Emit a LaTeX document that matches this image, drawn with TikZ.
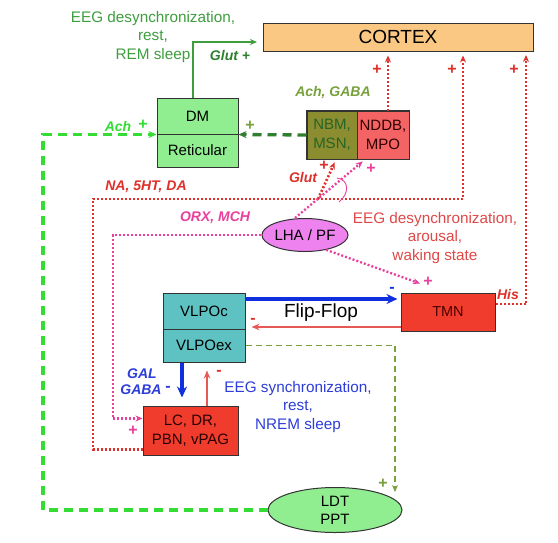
\documentclass[tikz,border=0pt]{standalone}
\usepackage{fontspec}
\setmainfont{Liberation Sans}
\usetikzlibrary{arrows.meta,shapes.geometric,calc}
\definecolor{cortexfill}{HTML}{FAC882}
\definecolor{lgreen}{HTML}{90EE90}
\definecolor{olivefill}{HTML}{8C8C30}
\definecolor{salmon}{HTML}{F46464}
\definecolor{tealfill}{HTML}{5FC2C2}
\definecolor{redbox}{HTML}{F03C2C}
\definecolor{violetfill}{HTML}{EE82EE}
\definecolor{eeggreen}{HTML}{3E9E3E}
\definecolor{darkgreen}{HTML}{2F7F2F}
\definecolor{olivetext}{HTML}{78A03C}
\definecolor{brightgreen}{HTML}{33DD33}
\definecolor{redtext}{HTML}{E0302A}
\definecolor{eegred}{HTML}{E04848}
\definecolor{bluetext}{HTML}{2D3DD8}
\definecolor{bluearrow}{HTML}{1030E0}
\definecolor{pink}{HTML}{E8409C}
\definecolor{edge}{HTML}{333333}
\begin{document}
\begin{tikzpicture}[x=1pt,y=-1pt,
  box/.style={draw=edge,line width=1pt,inner sep=0pt,font=\fontsize{15}{17}\selectfont},
  lbl/.style={inner sep=0pt,font=\fontsize{14}{16}\selectfont\bfseries\itshape},
  txt/.style={inner sep=0pt,align=center,font=\fontsize{15.3}{18.5}\selectfont},
  sgn/.style={inner sep=0pt,font=\fontsize{16}{17}\selectfont\bfseries},
  tip/.style={-{Stealth[length=7pt,width=6pt]}},
  reddot/.style={tip,draw=redtext,line width=2.6pt,dash pattern=on 2pt off 2pt},
  pinkdot/.style={tip,draw=pink,line width=2.3pt,dash pattern=on 2pt off 2pt},
  gdash/.style={-{Stealth[length=8pt,width=7pt]},draw=brightgreen,line width=3.3pt,dash pattern=on 9pt off 6pt},
  dgdash/.style={-{Stealth[length=8pt,width=7pt]},draw=darkgreen,line width=3.3pt,dash pattern=on 9pt off 6pt},
  odash/.style={tip,draw=olivetext,line width=1.8pt,dash pattern=on 6pt off 4pt},
  bluethick/.style={-{Stealth[length=11pt,width=10pt]},draw=bluearrow,line width=3.2pt},
  redthin/.style={-{Stealth[length=8pt,width=6.5pt]},draw=redtext!80,line width=1.3pt}]
\useasboundingbox (0,0) rectangle (558,542);
\fill[white] (0,0) rectangle (558,542);

% nodes
\node[box,fill=cortexfill,minimum width=270pt,minimum height=28pt,font=\fontsize{19}{21}\selectfont] (cortex) at (398,37) {CORTEX};
\node[box,fill=lgreen,minimum width=81pt,minimum height=36pt] (dm) at (197.5,116) {DM};
\node[box,fill=lgreen,minimum width=81pt,minimum height=33pt] (ret) at (197.5,150.5) {Reticular};
\node[box,fill=olivefill,minimum width=50pt,minimum height=48pt,align=center,text=darkgreen!80!black,font=\fontsize{15}{19}\selectfont] (nbm) at (332,135) {NBM,\\MSN,};
\node[box,fill=salmon,minimum width=52pt,minimum height=48pt,align=center,text=black!80!red,font=\fontsize{15}{19}\selectfont] (nddb) at (383,135) {NDDB,\\MPO};
\draw[edge,line width=1pt] (nbm.north west) rectangle (nddb.south east);
\node[ellipse,draw=edge,line width=1pt,fill=violetfill,minimum width=85pt,minimum height=33pt,inner sep=0pt,font=\fontsize{15}{17}\selectfont] (lha) at (305,235) {LHA / PF};
\node[box,fill=tealfill,minimum width=82pt,minimum height=36pt] (vlpoc) at (204,311) {VLPOc};
\node[box,fill=tealfill,minimum width=82pt,minimum height=33pt] (vlpoex) at (204,345.5) {VLPOex};
\node[box,fill=redbox,minimum width=94pt,minimum height=38pt,text=black!70!red,font=\fontsize{14.5}{17}\selectfont] (tmn) at (448,312) {TMN};
\node[box,fill=redbox,minimum width=95pt,minimum height=49pt,align=center,text=black!85!red,font=\fontsize{15}{19}\selectfont] (lc) at (190.5,430.5) {LC, DR,\\PBN, vPAG};
\node[ellipse,draw=edge,line width=1pt,fill=lgreen,minimum width=134pt,minimum height=45pt,inner sep=0pt,align=center,font=\fontsize{15}{18}\selectfont] (ldt) at (335,510) {LDT\\PPT};

% helper coordinates
\coordinate (glutend) at (257,42);
\coordinate (achc) at (43,135);
\coordinate (na1) at (93,199);
\coordinate (na2) at (463,199);
\coordinate (his) at (526,51);
\coordinate (glut1) at (318,199);
\coordinate (orx) at (113,231);
\coordinate (ldtin) at (395,492);

% connectors
\draw[tip,draw=eeggreen,line width=1.3pt] ([xshift=-4.5pt]dm.north) |- (glutend);
\draw[dgdash] (nbm.west) -- (dm.south east);
\draw[gdash] (ldt.west) -- (ldt.west -| achc) |- (dm.south west);
\draw[reddot,shorten >=4pt] ([xshift=5pt]nddb.north) -- ([xshift=5pt]nddb.north |- cortex.south);
\draw[reddot,shorten >=4pt] ([yshift=6pt]lc.south west) -| (na1) -| (na2 |- cortex.south);
\draw[reddot,shorten >=4pt] ([yshift=8pt]tmn.east) -| (his);
\draw[reddot,shorten >=3pt] (glut1) -- ([xshift=4pt]nbm.south);
\draw[pinkdot,shorten >=3pt] ([xshift=-10pt]lha.north) -- ([xshift=-18pt]nddb.south);
\draw[pink,line width=0.9pt] (337,178) .. controls (350,180) and (349,194) .. (339,202);
\draw[pinkdot] (lha.west) -- (lha.west -| orx) |- ([yshift=12pt]lc.west);
\draw[pinkdot] (lha.-35) -- ([xshift=-28pt,yshift=9pt]tmn.north);
\draw[bluethick,shorten >=3pt] ([yshift=12pt]vlpoc.east) -- ([yshift=12pt]vlpoc.east -| tmn.west);
\draw[redthin,shorten >=6pt] ([yshift=-15pt]tmn.west) -- ([yshift=-15pt]tmn.west -| vlpoc.east);
\draw[odash] (vlpoex.east) -| (ldtin);
\draw[bluethick,shorten >=8pt] ([xshift=-22pt]vlpoex.south) -- ([xshift=-22pt]vlpoex.south |- lc.north);
\draw[redthin,shorten >=8pt] ([xshift=16.5pt]lc.north) -- ([xshift=16.5pt]lc.north |- vlpoex.south);

% labels
\node[txt,text=eeggreen] (t1) at (153,37) {EEG desynchronization,\\rest,\\REM sleep};
\node[lbl,text=darkgreen] (l1) at (230,55) {Glut +};
\node[lbl,text=olivetext] (l2) at (333,93) {Ach, GABA};
\node[sgn,text=olivetext] (s1) at (250,126) {+};
\node[lbl,text=brightgreen] (l3) at (118,126) {Ach};
\node[sgn,text=brightgreen] (s2) at (143,125) {+};
\node[sgn,text=redtext] (s3) at (377,70) {+};
\node[sgn,text=redtext] (s4) at (452,70) {+};
\node[sgn,text=redtext] (s5) at (514,70) {+};
\node[lbl,text=redtext] (l4) at (146,187) {NA, 5HT, DA};
\node[lbl,text=redtext] (l5) at (303,177) {Glut};
\node[sgn,text=redtext] (s6) at (324,166) {+};
\node[sgn,text=pink] (s7) at (371,169) {+};
\node[lbl,text=pink] (l6) at (215,218) {ORX, MCH};
\node[txt,text=eegred] (t2) at (435,238) {EEG desynchronization,\\arousal,\\waking state};
\node[sgn,text=pink] (s8) at (428,282) {+};
\node[lbl,text=redtext] (l7) at (508,294) {His};
\node[sgn,text=bluearrow] (s9) at (392,290) {-};
\node[inner sep=0pt,font=\fontsize{19}{21}\selectfont] (ff) at (321,313) {Flip-Flop};
\node[sgn,text=redtext] (s10) at (253,321) {-};
\node[lbl,text=bluetext] (l8) at (142,374) {GAL};
\node[lbl,text=bluetext] (l9) at (141,390) {GABA};
\node[sgn,text=bluetext] (s11) at (168,389) {-};
\node[sgn,text=redtext] (s12) at (219,373) {-};
\node[txt,text=bluetext] (t3) at (298,407) {EEG synchronization,\\rest,\\NREM sleep};
\node[sgn,text=pink] (s13) at (133,431) {+};
\node[sgn,text=olivetext] (s14) at (383,484) {+};
\end{tikzpicture}
\end{document}
